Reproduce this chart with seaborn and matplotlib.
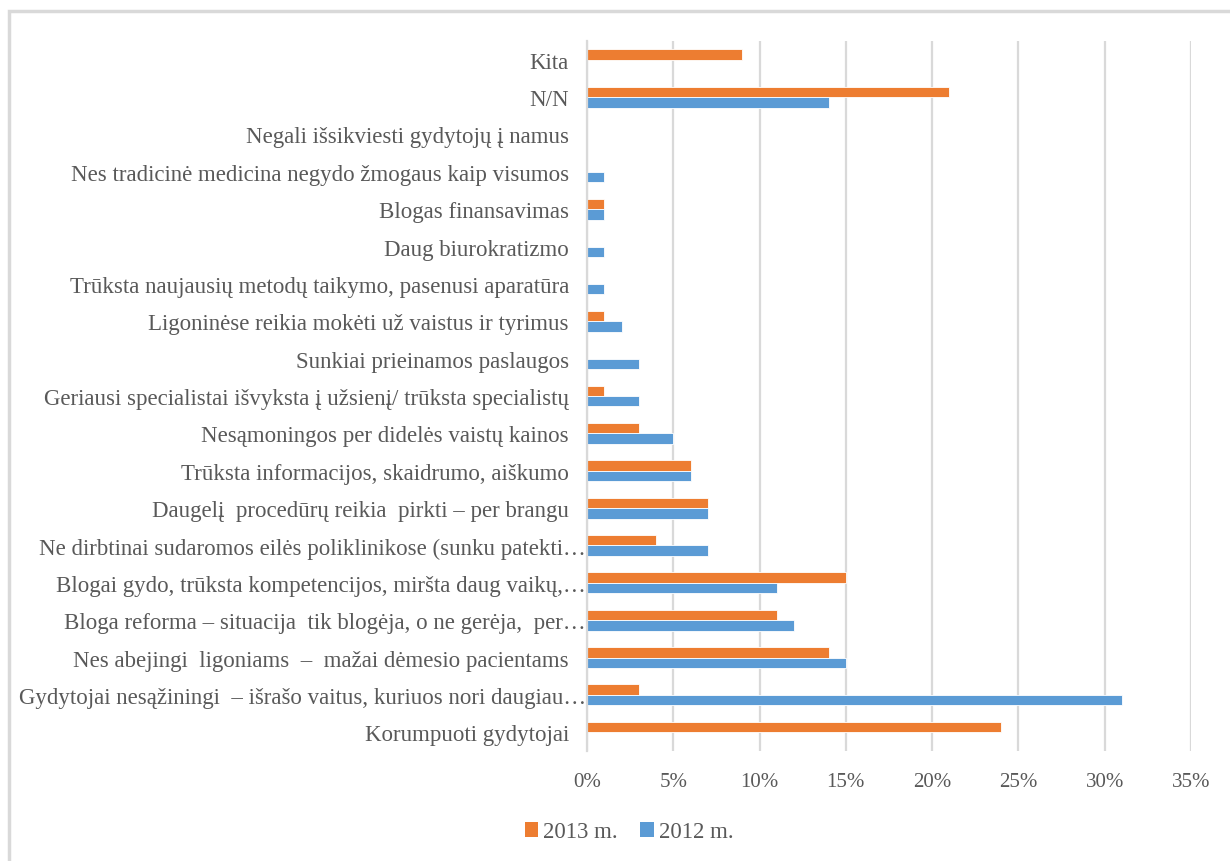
import matplotlib
matplotlib.use("Agg")
import matplotlib.pyplot as plt
import matplotlib.transforms as mtransforms
from matplotlib.patches import Rectangle, Patch
from matplotlib.ticker import FuncFormatter
import pandas as pd
import seaborn as sns

categories = [
    "Kita",
    "N/N",
    "Negali išsikviesti gydytojų į namus",
    "Nes tradicinė medicina negydo žmogaus kaip visumos",
    "Blogas finansavimas",
    "Daug biurokratizmo",
    "Trūksta naujausių metodų taikymo, pasenusi aparatūra",
    "Ligoninėse reikia mokėti už vaistus ir tyrimus",
    "Sunkiai prieinamos paslaugos",
    "Geriausi specialistai išvyksta į užsienį/ trūksta specialistų",
    "Nesąmoningos per didelės vaistų kainos",
    "Trūksta informacijos, skaidrumo, aiškumo",
    "Daugelį  procedūrų reikia  pirkti – per brangu",
    "Ne dirbtinai sudaromos eilės poliklinikose (sunku patekti…",
    "Blogai gydo, trūksta kompetencijos, miršta daug vaikų,…",
    "Bloga reforma – situacija  tik blogėja, o ne gerėja,  per…",
    "Nes abejingi  ligoniams  –  mažai dėmesio pacientams",
    "Gydytojai nesąžiningi  – išrašo vaitus, kuriuos nori daugiau…",
    "Korumpuoti gydytojai",
]
values_2013 = [9, 21, 0, 0, 1, 0, 0, 1, 0, 1, 3, 6, 7, 4, 15, 11, 14, 3, 24]
values_2012 = [0, 14, 0, 1, 1, 1, 1, 2, 3, 3, 5, 6, 7, 7, 11, 12, 15, 31, 0]
series = ["2013 m.", "2012 m."]
x_ticks = [0, 5, 10, 15, 20, 25, 30, 35]

df = pd.DataFrame({
    "category": categories * 2,
    "series": [series[0]] * len(categories) + [series[1]] * len(categories),
    "value": values_2013 + values_2012,
})

sns.set_theme(style="white")
plt.rcParams["font.family"] = ["Liberation Serif", "DejaVu Serif"]

text_color = "#595959"
grid_color = "#d9d9d9"
palette = {series[0]: "#ED7D31", series[1]: "#5B9BD5"}

fig = plt.figure(figsize=(12.3, 8.62), dpi=100)
ax = fig.add_axes([587 / 1230, 1 - 752 / 862, (1191 - 587) / 1230, (752 - 42) / 862])

sns.barplot(
    data=df, y="category", x="value", hue="series",
    order=categories, hue_order=series, palette=palette,
    orient="h", width=0.56, ax=ax, legend=False,
    edgecolor="white", linewidth=0.6, saturation=1,
)

ax.set_xlim(0, 35)
ax.set_ylim(len(categories) - 0.5, -0.5)
ax.set_xticks(x_ticks)
ax.xaxis.set_major_formatter(FuncFormatter(lambda v, p: f"{v:.0f}%"))
ax.xaxis.grid(True, color=grid_color, linewidth=1.6)
ax.set_axisbelow(True)
ax.set_xlabel("")
ax.set_ylabel("")
for side in ["top", "right", "bottom"]:
    ax.spines[side].set_visible(False)
ax.spines["left"].set_color(grid_color)
ax.spines["left"].set_linewidth(1.6)

ax.tick_params(axis="x", length=0, pad=15, labelsize=15, labelcolor=text_color)
ax.tick_params(axis="y", length=0, pad=13, labelsize=16.5, labelcolor=text_color)

# truncated labels run right up to the axis
shift = mtransforms.ScaledTranslation(17 / 100, 0, fig.dpi_scale_trans)
for lab in ax.get_yticklabels():
    if lab.get_text().endswith("…"):
        lab.set_transform(lab.get_transform() + shift)

handles = [Patch(facecolor=palette[s], edgecolor="none", label=s) for s in series]
fig.legend(
    handles=handles, loc="center", bbox_to_anchor=(629 / 1230, 1 - 833 / 862),
    ncol=2, frameon=False, fontsize=16.5, labelcolor=text_color,
    handlelength=0.6, handleheight=0.6, handletextpad=0.2, columnspacing=1.0,
)

# chart border
fig.patches.append(Rectangle(
    (9 / 1230, -0.05), 1.2, 1 - 12 / 862 + 0.05, transform=fig.transFigure,
    fill=False, edgecolor=grid_color, linewidth=2.5, zorder=0,
))

fig.savefig("out.png", dpi=100, facecolor="white")
